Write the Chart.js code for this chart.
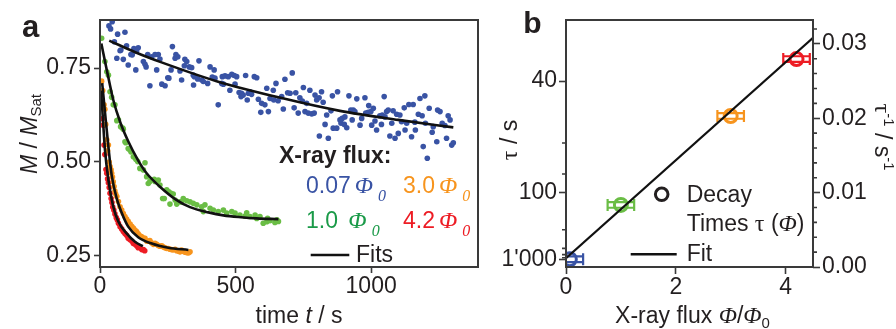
<!DOCTYPE html>
<html>
<head>
<meta charset="utf-8">
<script src="https://cdn.jsdelivr.net/npm/chart.js@4.4.0/dist/chart.umd.min.js"></script>
<style>
  html, body { margin: 0; padding: 0; background: #fff; }
  #wrap { position: relative; width: 896px; height: 329px; overflow: hidden; background: #fff; }
  canvas { position: absolute; top: 0; }
  #ca { left: 0; width: 490px; height: 329px; }
  #cb { left: 490px; width: 406px; height: 329px; }
</style>
</head>
<body>
<div id="wrap">
  <canvas id="ca" width="490" height="329"></canvas>
  <canvas id="cb" width="406" height="329"></canvas>
</div>
<script>
// ---------- Panel a: relaxation of M / M_Sat under X-ray exposure ----------
const timeTicks = [0, 500, 1000];
const mTicks = [0.25, 0.5, 0.75];

// 0.07 Φ0
const blueTime = [33,39,45,53,62,65,74,77,86,92, 98,104,114,119,125,132,135,141,160,166,
  170,176,184,191,203,209,215,221,228,240, 250,254,262,267,277,280,287,295,301,311,
  313,320,329,338,344,345,348,360,365,375, 381,397,406,414,421,424,436,449,451,455,
  461,473,479,486,495,498,504,513,520,522, 528,537,543,547,553,559,569,578,584,593,
  596,608,615,621,627,639,641,649,657,670, 676,682,692,701,709,716,722,731,737,746,
  750,756,762,768,774,781,790,793,799,808, 809,817,823,830,836,842,852,857,860,873,
  876,885,889,893,901,903,910,918,925,930, 934,940,947,959,965,977,980,989,991,999,
  1002,1008,1014,1020,1032,1038,1041,1048,1051,1057, 1063,1069,1076,1081,1088,1094,1100,1106,1112,1122,
  1125,1131,1139,1149,1155,1161,1163,1174,1180,1188, 1192,1198,1200,1207,1214,1225,1229,1242,1245,1254,
  1262,1272,1278,1284,1291,1297,1303];
const blueM = [0.862,0.854,0.873,0.820,0.776,0.840,0.796,0.798,0.773,0.845, 0.809,0.758,0.786,0.785,0.802,0.745,0.795,0.804,0.767,0.760,
  0.753,0.786,0.703,0.780,0.786,0.745,0.786,0.774,0.707,0.703, 0.724,0.723,0.745,0.807,0.776,0.786,0.780,0.742,0.718,0.756,
  0.773,0.767,0.753,0.751,0.731,0.705,0.727,0.721,0.769,0.718, 0.714,0.709,0.753,0.726,0.745,0.723,0.652,0.709,0.727,0.707,
  0.729,0.727,0.691,0.733,0.730,0.707,0.727,0.685,0.674,0.683, 0.678,0.730,0.665,0.683,0.687,0.680,0.727,0.724,0.667,0.632,
  0.656,0.652,0.696,0.634,0.669,0.691,0.665,0.709,0.663,0.674, 0.641,0.720,0.684,0.683,0.737,0.644,0.684,0.630,0.671,0.662,
  0.698,0.634,0.656,0.630,0.691,0.628,0.630,0.678,0.665,0.671, 0.569,0.687,0.659,0.600,0.625,0.563,0.636,0.676,0.590,0.590,
  0.687,0.612,0.603,0.616,0.600,0.620,0.591,0.676,0.638,0.612, 0.638,0.634,0.668,0.598,0.616,0.671,0.630,0.632,0.650,0.634,
  0.598,0.643,0.609,0.585,0.623,0.600,0.625,0.674,0.620,0.634, 0.638,0.569,0.603,0.636,0.563,0.627,0.576,0.625,0.607,0.644,
  0.585,0.603,0.653,0.567,0.653,0.606,0.585,0.627,0.669,0.623, 0.541,0.676,0.603,0.510,0.643,0.579,0.594,0.554,0.638,0.634,
  0.603,0.597,0.563,0.623,0.612,0.545,0.551];

// 1.0 Φ0
const greenTime = [6,18,25,31,37,43,49,55,62,68, 76,84,86,92,95,104,108,114,123,132,
  139,147,160,166,172,178,184,191,200,203, 209,215,221,231,237,246,254,258,262,270,
  277,283,295,301,307,320,332,344,357,375, 381,387,406,418,436,455,467,486,498,516,
  535,541,553,572,578,590,602,615,618,627, 645,652,658];
const greenM = [0.829,0.767,0.740,0.731,0.687,0.672,0.652,0.652,0.610,0.612, 0.594,0.590,0.587,0.554,0.551,0.536,0.534,0.527,0.514,0.507,
  0.501,0.483,0.479,0.498,0.461,0.443,0.448,0.452,0.454,0.448, 0.450,0.452,0.439,0.403,0.403,0.426,0.421,0.388,0.417,0.415,
  0.399,0.388,0.394,0.394,0.403,0.397,0.394,0.390,0.386,0.381, 0.368,0.386,0.377,0.372,0.368,0.372,0.364,0.368,0.364,0.359,
  0.356,0.365,0.355,0.359,0.350,0.355,0.337,0.341,0.350,0.344, 0.339,0.346,0.342];

// 3.0 Φ0
const orangeTime = [6,10,15,18,21,25,28,31,34,37, 41,43,46,49,52,55,58,62,68,74,
  80,86,92,98,104,111,117,123,129,135, 141,147,153,160,166,172,178,184,190,197,
  203,209,215,221,228,234,240,246,252,258, 264,270,277,283,289,295,301,307,314,320, 326,332];
const orangeM = [0.715,0.690,0.652,0.640,0.600,0.559,0.530,0.545,0.500,0.488, 0.479,0.470,0.460,0.447,0.435,0.423,0.415,0.408,0.395,0.381,
  0.372,0.363,0.355,0.348,0.342,0.335,0.329,0.324,0.319,0.315, 0.309,0.304,0.302,0.298,0.297,0.290,0.289,0.291,0.285,0.281,
  0.284,0.281,0.278,0.276,0.277,0.274,0.272,0.270,0.270,0.268, 0.267,0.266,0.268,0.264,0.263,0.261,0.266,0.262,0.260,0.259, 0.258,0.261];

// 4.2 Φ0
const redTime = [2,6,9,12,15,18,22,25,28,31, 34,37,41,44,47,51,55,60,64,68,
  74,80,86,92,98,104,110,117,123,129, 135,141,147,154,160,165];
const redM = [0.678,0.650,0.615,0.598,0.545,0.520,0.480,0.470,0.455,0.445, 0.432,0.417,0.403,0.392,0.380,0.372,0.362,0.352,0.346,0.337,
  0.328,0.322,0.315,0.310,0.305,0.297,0.294,0.290,0.283,0.282, 0.277,0.272,0.273,0.267,0.267,0.264];

// fitted decay curves
const blueFitTime = [34,130,227,430,670,885,1100,1303];
const blueFitM = [0.823,0.792,0.765,0.715,0.670,0.636,0.612,0.592];
const greenFitTime = [5,25,49,75,104,140,172,220,280,332,400,455,520,578,658];
const greenFitM = [0.815,0.745,0.665,0.605,0.555,0.505,0.470,0.435,0.400,0.380,0.366,0.358,0.353,0.350,0.348];
const orangeFitTime = [8,18,31,43,62,80,104,141,191,252,326];
const orangeFitM = [0.710,0.635,0.540,0.465,0.402,0.365,0.328,0.300,0.283,0.272,0.266];
const redFitTime = [4,12,18,31,49,68,98,129,158];
const redFitM = [0.690,0.600,0.535,0.452,0.381,0.341,0.310,0.288,0.276];

// ---------- Panel b: decay rate versus X-ray flux ----------
const flux = [0.07, 1.0, 3.0, 4.2];
const fluxErr = [0.26, 0.26, 0.26, 0.26];
const decayRate = [0.00104, 0.00834, 0.0203, 0.02795];
const fitFlux = [0, 4.5];
const fitRate = [0.00117, 0.0308];
const fluxTicks = [0, 2, 4];
const rateTicks = [0, 0.01, 0.02, 0.03];
const rateMinorTicks = [0.002,0.004,0.006,0.008,0.012,0.014,0.016,0.018,0.022,0.024,0.026,0.028,0.032];
const tauTicks = [40, 100, 1000];
const tauTickLabels = ['40', '100', "1'000"];
const tauMinorTicks = [60, 80, 200, 400, 600, 800];

// ---------- styling ----------
const SANS = '"Liberation Sans", Arial, Helvetica, sans-serif';
const SERIF = '"Liberation Serif", "Times New Roman", serif';
const INK = '#231f20';
const FRAME = '#3a3a3a';
const BLUE = '#3953a4', GREEN = '#6abd45', GREEN_TXT = '#1a9a48', ORANGE = '#f7941d', RED = '#ed1c24';
const pointColors = [BLUE, GREEN, ORANGE, RED];

const pts = (xs, ys) => xs.map((x, i) => ({ x, y: ys[i] }));

function dots(xs, ys, color) {
  return { type: 'scatter', data: pts(xs, ys), backgroundColor: color, borderWidth: 0,
           pointRadius: 2.8, pointHoverRadius: 2.8, order: 1 };
}
function fitLine(xs, ys) {
  return { type: 'line', data: pts(xs, ys), borderColor: '#111', borderWidth: 2.6, pointRadius: 0,
           fill: false, cubicInterpolationMode: 'monotone', order: 0 };
}
function tickGrid(len) {
  return { display: true, drawOnChartArea: false, drawTicks: true, tickLength: len,
           tickColor: FRAME, tickWidth: 1.6 };
}
const tickFont = { family: SANS, size: 23 };

// text made of differently styled pieces along one baseline
function drawRuns(ctx, item) {
  ctx.save();
  ctx.translate(item.x, item.y);
  if (item.rot) ctx.rotate(item.rot);
  ctx.textBaseline = 'alphabetic';
  ctx.textAlign = 'left';
  const widths = item.runs.map(r => { ctx.font = r.font; return ctx.measureText(r.t).width + (r.dx || 0); });
  const total = widths.reduce((a, b) => a + b, 0);
  let x = item.align === 'center' ? -total / 2 : 0;
  item.runs.forEach((r, i) => {
    ctx.font = r.font;
    ctx.fillStyle = r.color || item.color || INK;
    ctx.fillText(r.t, x + (r.dx || 0), r.dy || 0);
    x += widths[i];
  });
  ctx.restore();
}

const framePlugin = {
  id: 'frame',
  afterDraw(chart) {
    const a = chart.chartArea, c = chart.ctx;
    c.save();
    c.strokeStyle = FRAME; c.lineWidth = 2;
    c.strokeRect(a.left, a.top, a.right - a.left, a.bottom - a.top);
    c.restore();
  }
};

const f23 = `23px ${SANS}`, i23 = `italic 23px ${SANS}`, b23 = `bold 23px ${SANS}`;
const phi = `italic 24px ${SERIF}`, sub0 = `italic 16px ${SERIF}`;

function fluxLabel(x, y, num, color) {
  return { x, y, color, runs: [
    { t: num, font: f23 },
    { t: 'Φ', font: phi, dx: 4 },
    { t: '0', font: sub0, dx: 5, dy: 8 }
  ] };
}

const textA = [
  { x: 22, y: 37, runs: [{ t: 'a', font: `bold 31px ${SANS}` }] },
  { x: 37, y: 134, rot: -Math.PI / 2, align: 'center', runs: [
    { t: 'M', font: i23 }, { t: ' / ', font: f23 }, { t: 'M', font: i23 },
    { t: 'Sat', font: `15px ${SANS}`, dy: 4 } ] },
  { x: 299, y: 323, align: 'center', runs: [
    { t: 'time ', font: f23 }, { t: 't', font: i23 }, { t: ' / s', font: f23 } ] },
  { x: 279, y: 163, runs: [{ t: 'X-ray flux:', font: b23 }] },
  fluxLabel(306, 193, '0.07', BLUE),
  fluxLabel(403, 193, '3.0', ORANGE),
  fluxLabel(306, 227.5, '1.0 ', GREEN_TXT),
  fluxLabel(403, 227.5, '4.2', RED),
  { x: 356, y: 261.5, runs: [{ t: 'Fits', font: f23 }] }
];

const textPluginA = {
  id: 'textA',
  afterDraw(chart) {
    const c = chart.ctx;
    textA.forEach(it => drawRuns(c, it));
    c.save();
    c.strokeStyle = '#111'; c.lineWidth = 2.6;
    c.beginPath(); c.moveTo(310.7, 255); c.lineTo(349.3, 255); c.stroke();
    c.restore();
  }
};

new Chart(document.getElementById('ca'), {
  type: 'scatter',
  data: { datasets: [
    fitLine(blueFitTime, blueFitM), fitLine(greenFitTime, greenFitM),
    fitLine(orangeFitTime, orangeFitM), fitLine(redFitTime, redFitM),
    dots(blueTime, blueM, BLUE), dots(greenTime, greenM, GREEN),
    dots(orangeTime, orangeM, ORANGE), dots(redTime, redM, RED)
  ] },
  options: {
    responsive: false, animation: false, devicePixelRatio: 1, events: [],
    layout: { padding: { top: 20, right: 12, left: 0, bottom: 0 } },
    plugins: { legend: { display: false }, tooltip: { enabled: false } },
    scales: {
      x: { type: 'linear', min: 0, max: 1394, grid: tickGrid(6), border: { display: false },
           ticks: { font: tickFont, color: INK, padding: 0, maxRotation: 0, autoSkip: false,
                    callback: v => String(v) },
           afterBuildTicks: s => { s.ticks = timeTicks.map(v => ({ value: v })); },
           afterFit: s => { s.height = 62; } },
      y: { type: 'linear', min: 0.2207, max: 0.8777, grid: tickGrid(6), border: { display: false },
           ticks: { font: tickFont, color: INK, padding: 3, autoSkip: false, callback: v => v.toFixed(2) },
           afterBuildTicks: s => { s.ticks = mTicks.map(v => ({ value: v })); },
           afterFit: s => { s.width = 100; } }
    }
  },
  plugins: [framePlugin, textPluginA]
});

// ---------- chart b ----------
const errorBarPlugin = {
  id: 'errbars',
  beforeDatasetsDraw(chart) {
    const xs = chart.scales.x, ys = chart.scales.yr, a = chart.chartArea, c = chart.ctx;
    c.save();
    c.beginPath(); c.rect(a.left, a.top, a.right - a.left, a.bottom - a.top); c.clip();
    flux.forEach((f, i) => {
      const y = ys.getPixelForValue(decayRate[i]);
      const x1 = xs.getPixelForValue(f - fluxErr[i]);
      const x2 = xs.getPixelForValue(f + fluxErr[i]);
      c.strokeStyle = pointColors[i]; c.lineWidth = 2.2;
      c.beginPath();
      c.moveTo(x1, y - 2.8); c.lineTo(x2, y - 2.8);
      c.moveTo(x1, y + 2.8); c.lineTo(x2, y + 2.8);
      c.moveTo(x1 + 1, y - 6); c.lineTo(x1 + 1, y + 6);
      c.moveTo(x2 - 1, y - 6); c.lineTo(x2 - 1, y + 6);
      c.stroke();
    });
    c.restore();
  }
};

const minorTickPlugin = {
  id: 'minorTicks',
  afterDraw(chart) {
    const c = chart.ctx, l = chart.scales.yl, r = chart.scales.yr, a = chart.chartArea;
    c.save();
    c.strokeStyle = FRAME; c.lineWidth = 1.6;
    c.beginPath();
    tauMinorTicks.forEach(t => { const y = l.getPixelForValue(1 / t); c.moveTo(a.left - 4, y); c.lineTo(a.left, y); });
    rateMinorTicks.forEach(v => { const y = r.getPixelForValue(v); c.moveTo(a.right, y); c.lineTo(a.right + 4, y); });
    c.stroke();
    c.restore();
  }
};

const tauFont = `24px ${SERIF}`, sup = `15px ${SANS}`;
const textB = [
  { x: 33.3, y: 33.3, runs: [{ t: 'b', font: `bold 30px ${SANS}` }] },
  { x: 27, y: 140, rot: -Math.PI / 2, align: 'center', runs: [
    { t: 'τ', font: tauFont }, { t: ' / s', font: f23 } ] },
  { x: 385, y: 137, rot: Math.PI / 2, align: 'center', runs: [
    { t: 'τ', font: tauFont }, { t: '-1', font: sup, dy: -9 },
    { t: ' / s', font: f23 }, { t: '-1', font: sup, dy: -9 } ] },
  { x: 202.5, y: 323, align: 'center', runs: [
    { t: 'X-ray flux ', font: f23 }, { t: 'Φ', font: phi }, { t: '/', font: f23 },
    { t: 'Φ', font: phi }, { t: '0', font: `15px ${SANS}`, dy: 5 } ] },
  { x: 196.7, y: 201.5, runs: [{ t: 'Decay', font: f23 }] },
  { x: 196.7, y: 231, runs: [
    { t: 'Times ', font: f23 }, { t: 'τ', font: tauFont }, { t: ' (', font: f23 },
    { t: 'Φ', font: phi }, { t: ')', font: f23 } ] },
  { x: 196.7, y: 260.7, runs: [{ t: 'Fit', font: f23 }] }
];

const textPluginB = {
  id: 'textB',
  afterDraw(chart) {
    const c = chart.ctx;
    textB.forEach(it => drawRuns(c, it));
    c.save();
    c.strokeStyle = INK; c.lineWidth = 3;
    c.beginPath(); c.arc(171.7, 194.3, 6.3, 0, Math.PI * 2); c.stroke();
    c.strokeStyle = '#111'; c.lineWidth = 2.5;
    c.beginPath(); c.moveTo(140.7, 254.3); c.lineTo(186.7, 254.3); c.stroke();
    c.restore();
  }
};

new Chart(document.getElementById('cb'), {
  type: 'scatter',
  data: { datasets: [
    { type: 'line', data: pts(fitFlux, fitRate), yAxisID: 'yr', borderColor: '#111', borderWidth: 2.2,
      pointRadius: 0, fill: false, order: 0 },
    { type: 'scatter', data: pts(flux, decayRate), yAxisID: 'yr', pointRadius: 6.5, pointHoverRadius: 6.5,
      pointBorderWidth: 3, pointBackgroundColor: 'rgba(0,0,0,0)', pointBorderColor: pointColors, order: 1 }
  ] },
  options: {
    responsive: false, animation: false, devicePixelRatio: 1, events: [],
    layout: { padding: { top: 20, right: 0, left: 0, bottom: 0 } },
    plugins: { legend: { display: false }, tooltip: { enabled: false } },
    scales: {
      x: { type: 'linear', min: 0, max: 4.5, grid: tickGrid(7), border: { display: false },
           ticks: { font: tickFont, color: INK, padding: 0, maxRotation: 0, autoSkip: false,
                    callback: v => String(v) },
           afterBuildTicks: s => { s.ticks = fluxTicks.map(v => ({ value: v })); },
           afterFit: s => { s.height = 62; } },
      yl: { type: 'linear', position: 'left', min: 0, max: 0.0332, grid: tickGrid(7), border: { display: false },
            ticks: { font: tickFont, color: INK, padding: 2, autoSkip: false,
                     callback: (v, i) => tauTickLabels[i] },
            afterBuildTicks: s => { s.ticks = tauTicks.map(t => ({ value: 1 / t })); },
            afterFit: s => { s.width = 76; } },
      yr: { type: 'linear', position: 'right', min: 0, max: 0.0332, grid: tickGrid(7), border: { display: false },
            ticks: { font: tickFont, color: INK, padding: 2, autoSkip: false, callback: v => v.toFixed(2) },
            afterBuildTicks: s => { s.ticks = rateTicks.map(v => ({ value: v })); },
            afterFit: s => { s.width = 83; } }
    }
  },
  plugins: [framePlugin, errorBarPlugin, minorTickPlugin, textPluginB]
});
</script>
</body>
</html>
